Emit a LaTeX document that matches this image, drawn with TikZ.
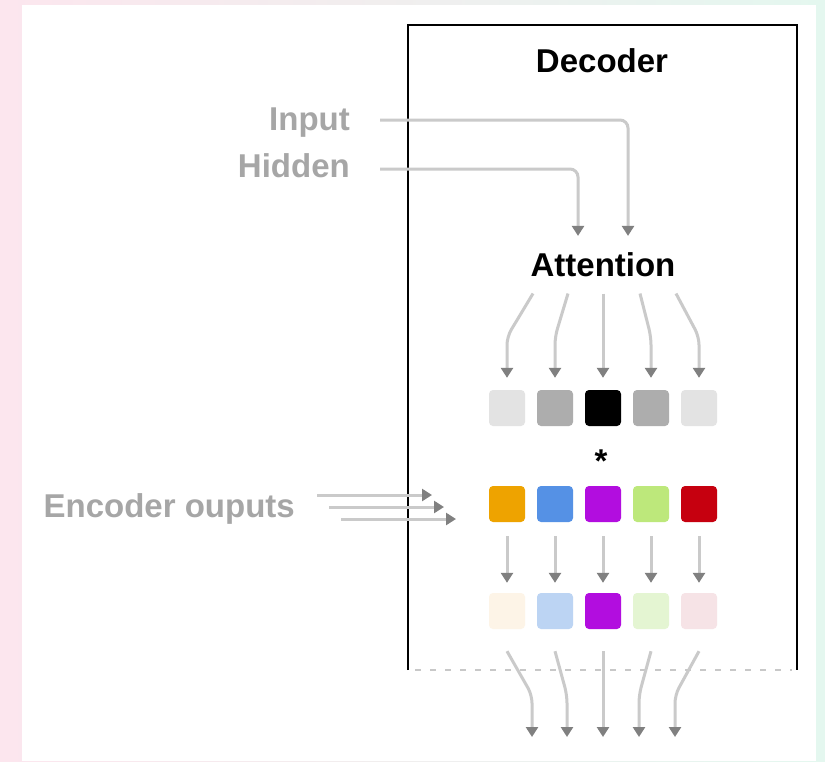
\documentclass[tikz,border=0pt]{standalone}
\usepackage{fontspec}
\setmainfont{Liberation Sans}
\usetikzlibrary{arrows.meta,calc}

\definecolor{labelgray}{HTML}{A6A6A6}
\definecolor{wiregray}{HTML}{CACACA}
\definecolor{tipgray}{HTML}{808080}
\definecolor{dashgray}{HTML}{C8C8C8}
\definecolor{bgpink}{HTML}{FCE6EE}
\definecolor{bgpeach}{HTML}{FDF4EA}
\definecolor{bgmint}{HTML}{E4F7EF}
% attention weights
\definecolor{wlow}{HTML}{E3E3E3}
\definecolor{wmid}{HTML}{ADADAD}
\definecolor{whigh}{HTML}{000000}
% encoder outputs
\definecolor{eorange}{HTML}{EEA300}
\definecolor{eblue}{HTML}{5591E5}
\definecolor{epurple}{HTML}{B20DDF}
\definecolor{egreen}{HTML}{BDE87B}
\definecolor{ered}{HTML}{C6000F}
% weighted outputs
\definecolor{worange}{HTML}{FDF4E7}
\definecolor{wblue}{HTML}{BCD4F3}
\definecolor{wpurple}{HTML}{B20DDF}
\definecolor{wgreen}{HTML}{E4F5D2}
\definecolor{wred}{HTML}{F6E3E6}

\begin{document}
\begin{tikzpicture}[x=1pt,y=-1pt,
  lbl/.style={font=\fontsize{33}{40}\selectfont\bfseries, inner sep=0pt},
  graylbl/.style={lbl, text=labelgray},
  wire/.style={draw=wiregray, line width=3pt, rounded corners=8pt,
    -{Triangle[length=10pt,width=12pt,color=tipgray]}},
  cell/.style={minimum size=36pt, inner sep=0pt, rounded corners=4pt}]

% page background and white panel
\useasboundingbox (0,0) rectangle (825,761);
\shade[left color=bgpink, middle color=bgpeach, right color=bgmint] (0,0) rectangle (825,761);
\fill[white] (22,5) rectangle (816,761);

% decoder frame (open at the bottom)
\draw[line width=2pt] (408,670) -- (408,25) -- (797,25) -- (797,670);
\draw[dashgray, line width=1.5pt, dash pattern=on 6pt off 9pt] (415,670) -- (792,670);

% labels
\node[lbl, anchor=base] (dectitle) at (602,72) {Decoder};
\node[lbl, anchor=base] (att) at (603,276) {Attention};
\node[graylbl, anchor=base east] (inp) at (350,130) {Input};
\node[graylbl, anchor=base east] (hid) at (350,177) {Hidden};
\node[graylbl, anchor=base east] (enc) at (295,517) {Encoder ouputs};
\node[lbl, anchor=base] (mul) at (601,472) {*};

% attention weights
\node[cell, fill=wlow]  (w1) at (507,408) {};
\node[cell, fill=wmid]  (w2) at (555,408) {};
\node[cell, fill=whigh] (w3) at (603,408) {};
\node[cell, fill=wmid]  (w4) at (651,408) {};
\node[cell, fill=wlow]  (w5) at (699,408) {};

% encoder outputs
\node[cell, fill=eorange] (e1) at (507,504) {};
\node[cell, fill=eblue]   (e2) at (555,504) {};
\node[cell, fill=epurple] (e3) at (603,504) {};
\node[cell, fill=egreen]  (e4) at (651,504) {};
\node[cell, fill=ered]    (e5) at (699,504) {};

% weighted encoder outputs
\node[cell, fill=worange] (c1) at (507,611) {};
\node[cell, fill=wblue]   (c2) at (555,611) {};
\node[cell, fill=wpurple] (c3) at (603,611) {};
\node[cell, fill=wgreen]  (c4) at (651,611) {};
\node[cell, fill=wred]    (c5) at (699,611) {};

% inputs into attention
\draw[wire] ($(inp.base east)+(30,-10)$) -| ($(att.north)+(25,-16)$);
\draw[wire] ($(hid.base east)+(30,-8)$) -| ($(att.north)+(-25,-16)$);

% attention fans out to the weights
\draw[wire] ($(att.south)+(-70,17)$) -- ($(w1.north)+(0,-53)$) -- ([yshift=12pt]w1.north);
\draw[wire] ($(att.south)+(-35,17)$) -- ($(w2.north)+(0,-53)$) -- ([yshift=12pt]w2.north);
\draw[wire] ($(att.south)+(0,17)$) -- ([yshift=12pt]w3.north);
\draw[wire] ($(att.south)+(37,17)$) -- ($(w4.north)+(0,-53)$) -- ([yshift=12pt]w4.north);
\draw[wire] ($(att.south)+(73,17)$) -- ($(w5.north)+(0,-53)$) -- ([yshift=12pt]w5.north);

% encoder outputs enter the decoder
\coordinate (in1) at (432,495);
\coordinate (in2) at (444,507);
\coordinate (in3) at (456,519);
\draw[wire] ($(enc.base east)+(22,-22)$) -- (in1);
\draw[wire] ($(enc.base east)+(34,-10)$) -- (in2);
\draw[wire] ($(enc.base east)+(46,2)$) -- (in3);

% weighting step
\foreach \i in {1,...,5}
  \draw[wire] ([yshift=-14pt]e\i.south) -- ([yshift=10pt]c\i.north);

% results leave the decoder
\coordinate (out1) at (532,737);
\coordinate (out2) at (567,737);
\coordinate (out3) at (603,737);
\coordinate (out4) at (639,737);
\coordinate (out5) at (675,737);
\draw[wire] ([yshift=-22pt]c1.south) -- (532,695) -- (out1);
\draw[wire] ([yshift=-22pt]c2.south) -- (567,695) -- (out2);
\draw[wire] ([yshift=-22pt]c3.south) -- (out3);
\draw[wire] ([yshift=-22pt]c4.south) -- (639,695) -- (out4);
\draw[wire] ([yshift=-22pt]c5.south) -- (675,695) -- (out5);
\end{tikzpicture}
\end{document}
